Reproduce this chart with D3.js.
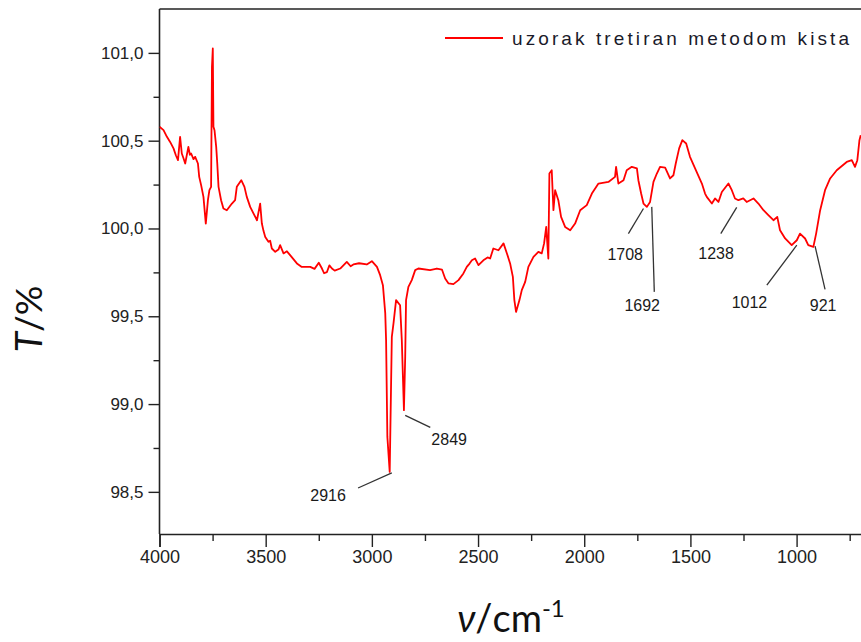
<!DOCTYPE html>
<html>
<head>
<meta charset="utf-8">
<script src="https://cdn.jsdelivr.net/npm/d3@7"></script>
<style>
  html, body { margin: 0; padding: 0; background: #fff; }
  svg { display: block; }
</style>
</head>
<body>
<svg id="chart" width="861" height="642"></svg>
<script>
// ---- Data ----
const wavenumbers = [
  4000, 3981, 3965, 3950, 3934, 3923, 3913, 3903, 3895, 3887, 3879, 3864, 3857, 3851, 3840, 3832, 3819, 3813, 3804,
  3793, 3782, 3772, 3765, 3757, 3753, 3749, 3746, 3741, 3733, 3728, 3722, 3710, 3699, 3683, 3659,
  3644, 3636, 3615, 3600, 3589, 3573, 3557, 3541, 3526, 3518, 3510, 3502, 3487, 3479, 3471, 3455, 3440, 3432,
  3416, 3400, 3385, 3353, 3330, 3290, 3270, 3250, 3235, 3225, 3212, 3200, 3188, 3175, 3149, 3118, 3100, 3087, 3060, 3024, 3000, 2976, 2961,
  2948, 2937, 2933, 2927, 2916, 2906, 2898, 2886, 2867, 2859, 2849, 2843, 2839, 2828, 2812, 2796,
  2781, 2726, 2694, 2670, 2655, 2639, 2616, 2592, 2569, 2553, 2540, 2529, 2514, 2498, 2475, 2455, 2443, 2428,
  2404, 2380, 2364, 2349, 2336, 2329, 2321, 2305, 2294, 2278, 2263, 2239, 2216, 2200, 2189, 2179,
  2169, 2164, 2153, 2145, 2137, 2122, 2109, 2090, 2066, 2043, 2019, 1988, 1964, 1933, 1886, 1855,
  1850, 1839, 1815, 1800, 1776, 1752, 1745, 1732, 1721, 1705, 1690, 1674, 1658, 1643, 1619, 1596,
  1580, 1569, 1553, 1538, 1520, 1502, 1478, 1446, 1431, 1423, 1399, 1384, 1368, 1352, 1321, 1305,
  1290, 1274, 1251, 1235, 1203, 1180, 1156, 1133, 1109, 1091, 1078, 1054, 1023, 999, 984, 960,
  945, 921, 908, 889, 866, 842, 811, 764, 740, 725, 714, 704, 698
];
const transmittance = [
  100.579, 100.560, 100.522, 100.493, 100.456, 100.417, 100.389, 100.522, 100.427, 100.400, 100.370, 100.465, 100.420, 100.427, 100.395, 100.408, 100.370, 100.294, 100.247,
  100.180, 100.028, 100.161, 100.218, 100.237, 100.919, 101.025, 100.579, 100.560, 100.465, 100.370, 100.237, 100.161, 100.114, 100.104, 100.142,
  100.161, 100.237, 100.275, 100.237, 100.180, 100.123, 100.085, 100.047, 100.142, 100.028, 99.985, 99.952, 99.924, 99.930, 99.886, 99.867, 99.880, 99.905,
  99.858, 99.870, 99.848, 99.801, 99.781, 99.781, 99.770, 99.805, 99.772, 99.745, 99.751, 99.790, 99.772, 99.760, 99.772, 99.810, 99.785, 99.795, 99.802, 99.795, 99.814, 99.781, 99.734,
  99.677, 99.518, 99.364, 98.813, 98.614, 99.383, 99.461, 99.592, 99.563, 99.364, 98.965, 99.269, 99.592, 99.667, 99.706, 99.763,
  99.772, 99.763, 99.772, 99.766, 99.715, 99.687, 99.683, 99.706, 99.744, 99.781, 99.800, 99.819, 99.829, 99.791, 99.819, 99.835, 99.829, 99.886,
  99.876, 99.915, 99.858, 99.801, 99.724, 99.592, 99.525, 99.592, 99.649, 99.696, 99.781, 99.838, 99.867, 99.858, 99.915, 100.009,
  99.829, 100.313, 100.332, 100.104, 100.218, 100.161, 100.066, 100.009, 99.990, 100.028, 100.104, 100.133, 100.199, 100.256, 100.265, 100.294,
  100.351, 100.256, 100.275, 100.332, 100.351, 100.342, 100.275, 100.199, 100.142, 100.123, 100.151, 100.265, 100.313, 100.351, 100.347, 100.285,
  100.303, 100.370, 100.456, 100.503, 100.484, 100.408, 100.342, 100.256, 100.199, 100.180, 100.142, 100.171, 100.151, 100.208, 100.256, 100.218,
  100.171, 100.161, 100.171, 100.151, 100.171, 100.142, 100.104, 100.076, 100.047, 100.066, 99.990, 99.943, 99.905, 99.933, 99.971, 99.943,
  99.905, 99.895, 99.971, 100.104, 100.218, 100.285, 100.332, 100.379, 100.389, 100.351, 100.389, 100.503, 100.531
];
const seriesName = "uzorak tretiran metodom kista";
const xTickValues = [4000, 3500, 3000, 2500, 2000, 1500, 1000];
const xMinorTicks = [3750, 3250, 2750, 2250, 1750, 1250, 750];
const yTickValues = [98.5, 99.0, 99.5, 100.0, 100.5, 101.0];
const yMinorTicks = [98.75, 99.25, 99.75, 100.25, 100.75];
// peak annotations: label, line start (wn, T), line end (wn, T), label centre (wn, T)
const peakLabels = ["2916", "2849", "1708", "1692", "1238", "1012", "921"];
const peakFrom = [[2906, 98.608], [2843, 98.936], [1721, 100.114], [1682, 100.123], [1282, 100.120], [999, 99.905], [913, 99.899]];
const peakTo   = [[3065, 98.522], [2725, 98.867], [1792, 99.971], [1670, 99.639], [1357, 99.971], [1140, 99.677], [866, 99.653]];
const peakText = [[3206, 98.478], [2636, 98.800], [1807, 99.853], [1727, 99.563], [1379, 99.859], [1222, 99.581], [875, 99.563]];

// ---- Layout ----
const W = 861, H = 642;
const mLeft = 159.5, mTop = 9, mBottom = 534, mRight = 862;
const svg = d3.select("#chart");

const x = d3.scaleLinear().domain([4000, 692]).range([mLeft, mRight]);
const y = d3.scaleLinear().domain([98.26, 101.25]).range([mBottom, mTop]);

const tickFont = "'Liberation Sans Narrow', 'Liberation Sans', Arial, sans-serif";

// Frame top line
svg.append("line").attr("x1", mLeft).attr("x2", W + 2).attr("y1", mTop).attr("y2", mTop)
  .attr("stroke", "#222").attr("stroke-width", 1.6);

// X axis
const xAxis = svg.append("g").attr("transform", `translate(0,${mBottom})`)
  .call(d3.axisBottom(x).tickValues(xTickValues).tickSize(13).tickPadding(3).tickFormat(d3.format("d")));
const xMinor = svg.append("g").attr("transform", `translate(0,${mBottom})`)
  .call(d3.axisBottom(x).tickValues(xMinorTicks).tickSize(7).tickFormat(""));
[xAxis, xMinor].forEach(g => {
  g.select(".domain").attr("stroke", "#222").attr("stroke-width", 1.6);
  g.selectAll(".tick line").attr("stroke", "#222").attr("stroke-width", 1.4);
});
xMinor.select(".domain").remove();
xAxis.selectAll(".tick text").attr("font-family", tickFont).attr("font-size", 18)
  .attr("fill", "#222").attr("dy", "0.7em");

// Y axis
const yAxis = svg.append("g").attr("transform", `translate(${mLeft},0)`)
  .call(d3.axisLeft(y).tickValues(yTickValues).tickSize(11).tickPadding(5)
    .tickFormat(d => d3.format(".1f")(d).replace(".", ",")));
const yMinor = svg.append("g").attr("transform", `translate(${mLeft},0)`)
  .call(d3.axisLeft(y).tickValues(yMinorTicks).tickSize(6).tickFormat(""));
[yAxis, yMinor].forEach(g => {
  g.select(".domain").attr("stroke", "#222").attr("stroke-width", 1.6);
  g.selectAll(".tick line").attr("stroke", "#222").attr("stroke-width", 1.4);
});
yMinor.select(".domain").remove();
yAxis.select(".domain").attr("d", `M0,${mTop}V${mBottom}`);
yAxis.selectAll(".tick text").attr("font-family", tickFont).attr("font-size", 17).attr("fill", "#222");

// Spectrum
const pts = wavenumbers.map((w, i) => [w, transmittance[i]]);
svg.append("defs").append("clipPath").attr("id", "clip")
  .append("rect").attr("x", mLeft).attr("y", mTop).attr("width", mRight - mLeft).attr("height", mBottom - mTop);
svg.append("path").datum(pts)
  .attr("clip-path", "url(#clip)")
  .attr("fill", "none").attr("stroke", "#ff0000").attr("stroke-width", 1.8)
  .attr("stroke-linejoin", "round")
  .attr("d", d3.line().x(d => x(d[0])).y(d => y(d[1])));

// Peak annotations
const ann = svg.append("g");
peakLabels.forEach((lab, i) => {
  ann.append("line")
    .attr("x1", x(peakFrom[i][0])).attr("y1", y(peakFrom[i][1]))
    .attr("x2", x(peakTo[i][0])).attr("y2", y(peakTo[i][1]))
    .attr("stroke", "#333").attr("stroke-width", 1.3);
  ann.append("text")
    .attr("x", x(peakText[i][0])).attr("y", y(peakText[i][1]))
    .attr("text-anchor", "middle").attr("dominant-baseline", "central")
    .attr("font-family", "'Liberation Sans', Arial, sans-serif").attr("font-size", 16)
    .attr("fill", "#1a1a1a").text(lab);
});

// Legend
svg.append("line").attr("x1", 445).attr("x2", 503).attr("y1", 38).attr("y2", 38)
  .attr("stroke", "#ff0000").attr("stroke-width", 1.8);
const lt = svg.append("text").attr("x", 512).attr("y", 45)
  .attr("font-family", "'Liberation Sans', Arial, sans-serif").attr("font-size", 19)
  .attr("fill", "#1a1a2a").text(seriesName);
const natural = lt.node().getComputedTextLength();
lt.attr("letter-spacing", ((849 - 512) - natural) / (seriesName.length - 1));

// Axis titles
const yt = svg.append("text")
  .attr("transform", "translate(42,319) rotate(-90)")
  .attr("text-anchor", "middle")
  .attr("font-family", "Lato, 'Open Sans', sans-serif").attr("font-size", 37).attr("fill", "#111");
yt.append("tspan").attr("font-style", "italic").text("T");
yt.append("tspan").text("/%");

const xt = svg.append("text")
  .attr("x", 511).attr("y", 632)
  .attr("text-anchor", "middle")
  .attr("font-family", "Lato, 'Open Sans', sans-serif").attr("font-size", 38).attr("fill", "#111");
xt.append("tspan").attr("font-style", "italic").text("ν");
xt.append("tspan").text("/cm");
xt.append("tspan").attr("font-size", 24).attr("dy", -15).text("-1");
</script>
</body>
</html>
